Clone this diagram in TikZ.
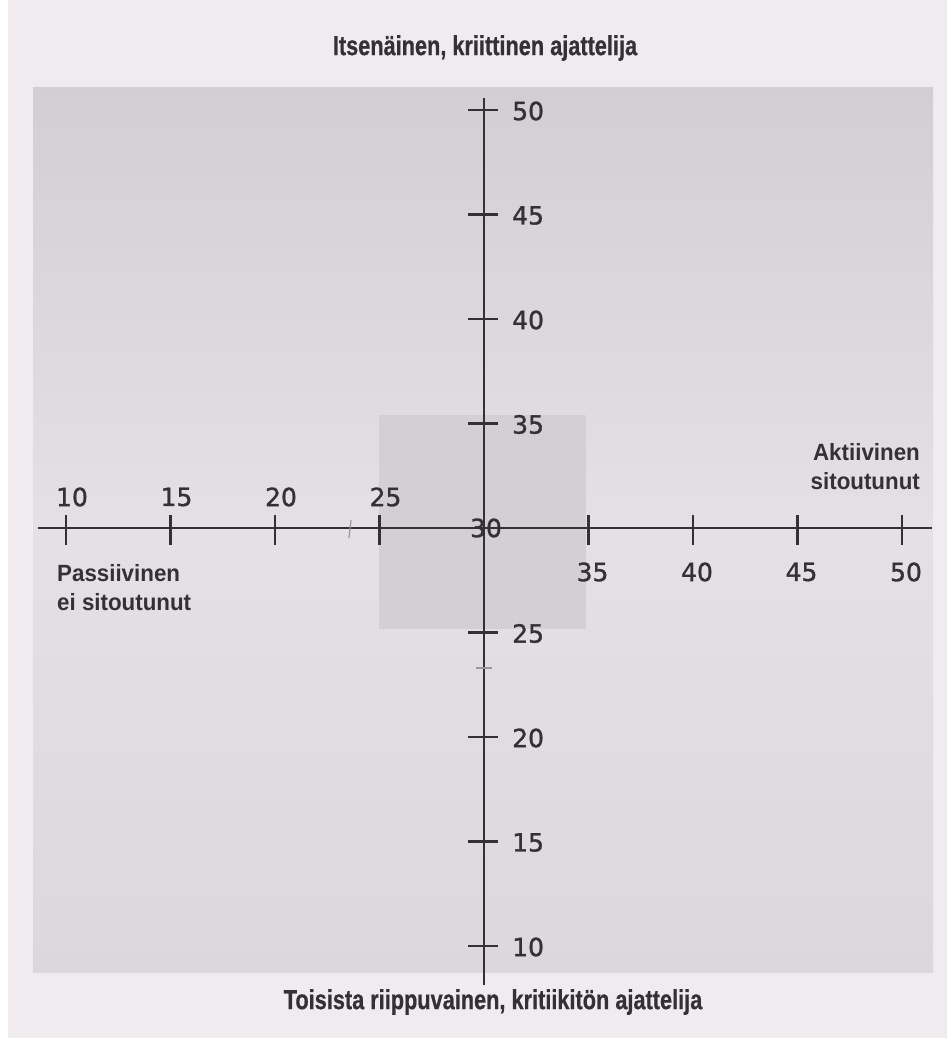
\documentclass[tikz,border=0pt]{standalone}
\usepackage{fontspec}
\newfontfamily\titlefont{Liberation Sans}[FakeStretch=0.79,FakeBold=0.6]
\newfontfamily\sidefont{Liberation Sans}[FakeStretch=0.95]
\newfontfamily\numfont{DejaVu Sans}[FakeBold=1.2]
\definecolor{pagebg}{HTML}{EFEBEF}
\definecolor{paneltop}{HTML}{D2CED3}
\definecolor{panelmid}{HTML}{E4E0E5}
\definecolor{panelbot}{HTML}{DBD7DB}
\definecolor{innersq}{HTML}{D4CFD5}
\definecolor{ink}{HTML}{333133}
\definecolor{faint}{HTML}{9A969A}
\tikzset{
  axisline/.style={ink, line width=2.8pt},
  tickline/.style={ink, line width=2.6pt},
  numlabel/.style={text=ink, font=\numfont\fontsize{25}{26}\selectfont, inner sep=0pt},
  titlelabel/.style={text=ink, font=\titlefont\bfseries\fontsize{27.5}{30}\selectfont, inner sep=0pt},
  sidelabel/.style={text=ink, font=\sidefont\bfseries\fontsize{23.5}{29}\selectfont, inner sep=0pt, align=left},
}
\begin{document}
\begin{tikzpicture}[x=1pt, y=-1pt]
\useasboundingbox (0,0) rectangle (947,1038);
\fill[white] (0,0) rectangle (947,1038);
\fill[pagebg] (8,0) rectangle (947,1038);
% panel
\shade[top color=paneltop, bottom color=panelbot, middle color=panelmid] (33,88) rectangle (933,972);
% inner square
\fill[innersq] (379,415) rectangle (586,629);
% axes
\coordinate (hl) at (38,528);
\coordinate (hr) at (932,528);
\coordinate (vt) at (484,98);
\coordinate (vb) at (484,985);
\draw[axisline] (hl) -- (hr);
\draw[axisline] (vt) -- (vb);
% horizontal ticks
\foreach \v in {10,15,20,25,35,40,45,50}{
  \draw[tickline] ({484+(\v-30)/5*104.5},515) -- ({484+(\v-30)/5*104.5},545);
}
\foreach \v in {10,15,20,25}{
  \node[numlabel] (hx\v) at ({490+(\v-30)/5*104.5},497) {\v};
}
\foreach \v in {35,40,45,50}{
  \node[numlabel] (hx\v) at ({488+(\v-30)/5*104.5},572) {\v};
}
% vertical ticks
\foreach \v in {10,15,20,25,35,40,45,50}{
  \draw[tickline] (468,{528-(\v-30)/5*104.5}) -- (498,{528-(\v-30)/5*104.5});
  \node[numlabel, anchor=west] (vy\v) at (512,{529-(\v-30)/5*104.5}) {\v};
}
\node[numlabel] (c30) at (486,528) {30};
% faint marks
\draw[faint, line width=1.2pt] (351,520) -- (349,538);
\draw[faint, line width=1.4pt] (476,668) -- (492,668);
% titles
\node[titlelabel] (top) at (485,48) {Itsenäinen, kriittinen ajattelija};
\node[titlelabel] (bottom) at (493,1002) {Toisista riippuvainen, kritiikitön ajattelija};
\node[sidelabel, anchor=north west] (pass) at (57,564) {Passiivinen\\ei sitoutunut};
\node[sidelabel, anchor=north east, align=right] (akt) at (920,443) {Aktiivinen\\sitoutunut};
\end{tikzpicture}
\end{document}
